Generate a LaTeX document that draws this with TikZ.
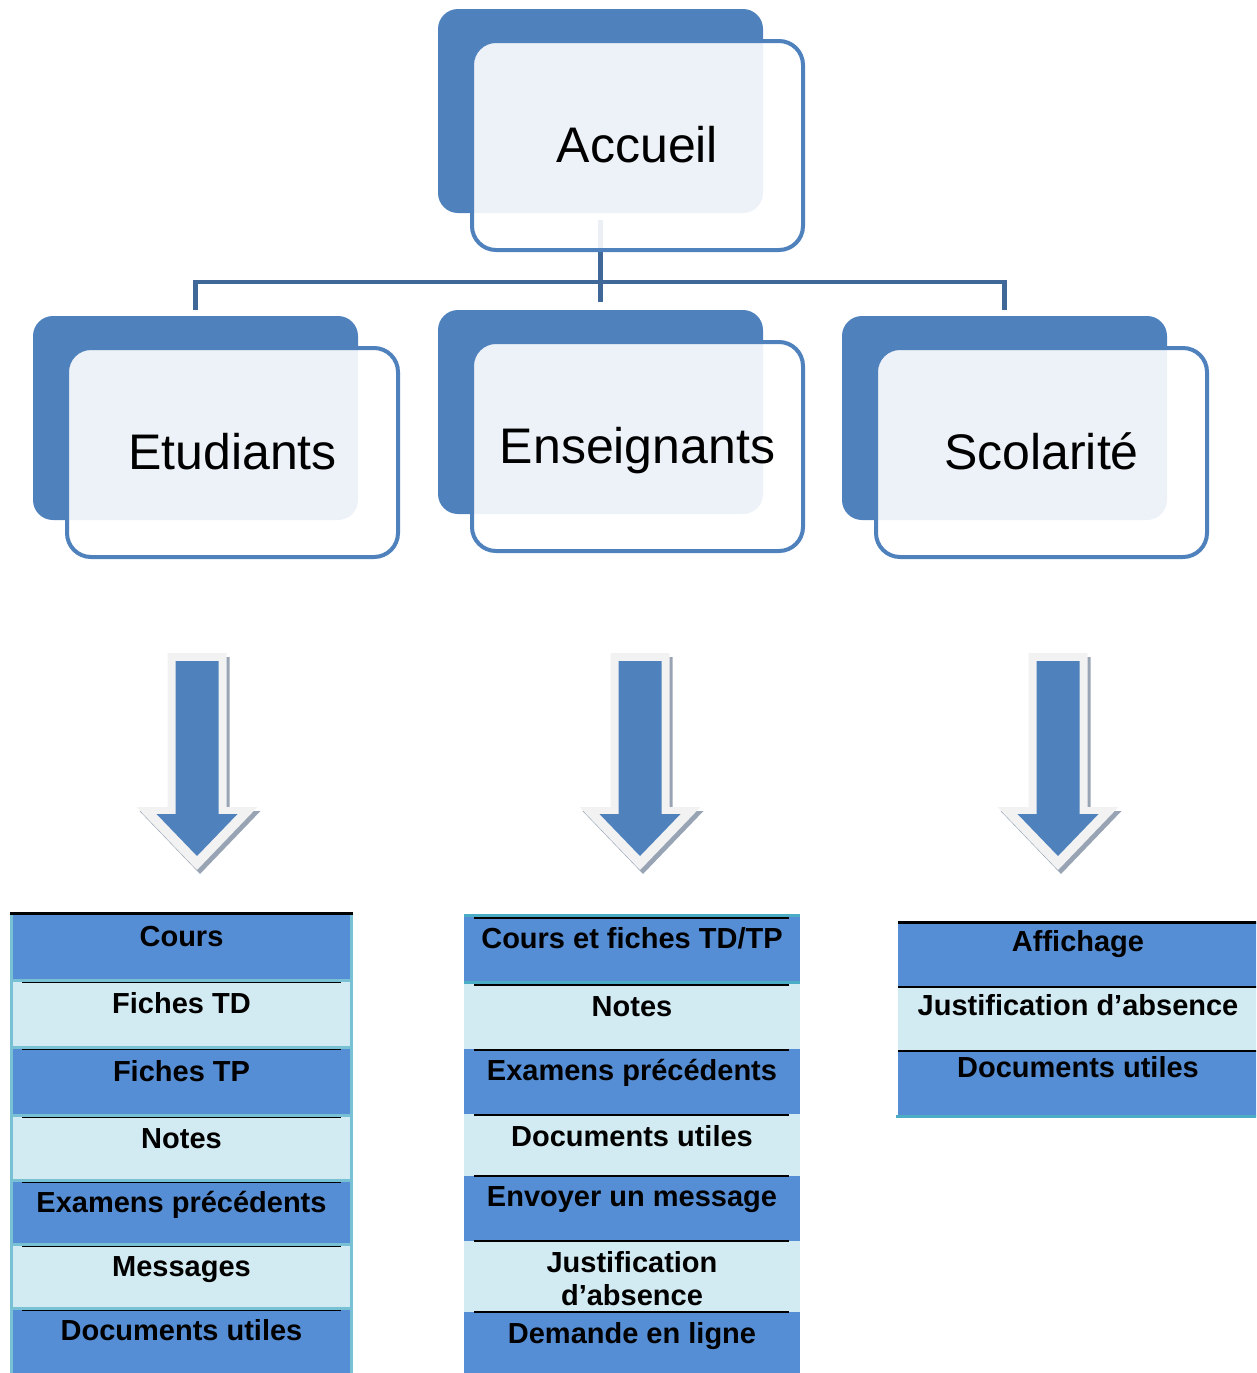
\documentclass[tikz,border=0pt]{standalone}
\usepackage{fontspec}
\setmainfont{Liberation Sans}
\usetikzlibrary{calc}
\definecolor{backblue}{HTML}{4F81BD}
\definecolor{connblue}{HTML}{3F6898}
\definecolor{arrlight}{HTML}{F2F2F2}
\definecolor{arrshadow}{HTML}{98A4B4}
\definecolor{cellblue}{HTML}{558ED5}
\definecolor{celllight}{HTML}{D2EAF1}
\definecolor{tealA}{HTML}{78C0D3}
\definecolor{tealB}{HTML}{4BACC6}
\tikzset{
  backbox/.style={rectangle, rounded corners=20pt, fill=backblue, minimum width=325pt, minimum height=204pt, inner sep=0pt},
  frontbox/.style={rectangle, rounded corners=24pt, draw=backblue, line width=4pt, fill=white, fill opacity=0.9, text opacity=1, minimum width=331pt, minimum height=209pt, inner sep=0pt, text height=33pt, text depth=0pt, font=\fontsize{50}{60}\selectfont},
  conn/.style={draw=connblue, line width=4.5pt},
  celltext/.style={anchor=base, inner sep=0pt, font=\bfseries\fontsize{29}{33}\selectfont, align=center},
  tealline/.style={line width=3pt},
  blackline/.style={draw=black, line width=1.4pt},
  downarr/.pic={
    \fill[arrshadow, shift={(3,4)}] (-29.5,0) -- (29.5,0) -- (29.5,154) -- (60.5,154) -- (0,217) -- (-60.5,154) -- (-29.5,154) -- cycle;
    \fill[arrlight] (-29.5,0) -- (29.5,0) -- (29.5,154) -- (60.5,154) -- (0,217) -- (-60.5,154) -- (-29.5,154) -- cycle;
    \fill[backblue] (-21.5,8) -- (21.5,8) -- (21.5,161) -- (40.5,161) -- (0,203) -- (-40.5,161) -- (-21.5,161) -- cycle;
  }
}
\begin{document}
\begin{tikzpicture}[x=1pt,y=-1pt]
\useasboundingbox (0,0) rectangle (1256,1373);
\clip (0,0) rectangle (1256,1373);

% back boxes
\node[backbox] (accb) at (600.5,111) {};
\node[backbox] (etb) at (195.5,418) {};
\node[backbox] (enb) at (600.5,412) {};
\node[backbox] (scb) at (1004.5,418) {};

% connectors
\coordinate (bus) at (0,282);
\draw[conn, shorten <=7pt, shorten >=8pt] (accb.south) -- (enb.north);
\draw[conn, shorten <=6pt, shorten >=6pt] (etb.north) -- (etb.north |- bus) -- (scb.north |- bus) -- (scb.north);

% front boxes
\node[frontbox] (acc) at (637.5,145.5) {Accueil};
\node[frontbox] (etu) at (232.5,452.5) {Etudiants};
\node[frontbox] (ens) at (637.5,446.5) {Enseignants};
\node[frontbox] (sco) at (1041.5,452.5) {Scolarité};

% arrows
\pic at (197,653) {downarr};
\pic at (640,653) {downarr};
\pic at (1058,653) {downarr};

% ---------- left table ----------
\fill[cellblue]  (10,913)  rectangle (353,980);
\fill[celllight] (10,980)  rectangle (353,1047);
\fill[cellblue]  (10,1047) rectangle (353,1115);
\fill[celllight] (10,1115) rectangle (353,1180);
\fill[cellblue]  (10,1180) rectangle (353,1244);
\fill[celllight] (10,1244) rectangle (353,1308);
\fill[cellblue]  (10,1308) rectangle (353,1380);
\foreach \yy in {980,1047,1115,1180,1244,1308} {
  \draw[tealline, draw=tealA] (10,\yy) -- (353,\yy);
  \draw[blackline] (22,\yy+2.5) -- (341,\yy+2.5);
}
\draw[tealline, draw=tealA] (11.5,913) -- (11.5,1380);
\draw[tealline, draw=tealA] (351.5,913) -- (351.5,1380);
\draw[draw=black, line width=3pt] (10,913.5) -- (353,913.5);

\node[celltext] (l1) at (181.5,946)  {Cours};
\node[celltext] (l2) at (181.5,1013) {Fiches TD};
\node[celltext] (l3) at (181.5,1081) {Fiches TP};
\node[celltext] (l4) at (181.5,1148) {Notes};
\node[celltext] (l5) at (181.5,1212) {Examens précédents};
\node[celltext] (l6) at (181.5,1276) {Messages};
\node[celltext] (l7) at (181.5,1340) {Documents utiles};

% ---------- middle table ----------
\fill[cellblue]  (464,916)  rectangle (800,983);
\fill[celllight] (464,983)  rectangle (800,1049);
\fill[cellblue]  (464,1049) rectangle (800,1114);
\fill[celllight] (464,1114) rectangle (800,1176);
\fill[cellblue]  (464,1176) rectangle (800,1241);
\fill[celllight] (464,1241) rectangle (800,1312);
\fill[cellblue]  (464,1312) rectangle (800,1380);
\draw[tealline, draw=tealB] (464,915.5) -- (800,915.5);
\draw[tealline, draw=tealB] (464,982) -- (800,982);
\foreach \yy in {918,985,1050,1115,1176,1241,1312} {
  \draw[blackline] (474,\yy) -- (789,\yy);
}
\node[celltext] (m1) at (632,948)  {Cours et fiches TD/TP};
\node[celltext] (m2) at (632,1016) {Notes};
\node[celltext] (m3) at (632,1080) {Examens précédents};
\node[celltext] (m4) at (632,1146) {Documents utiles};
\node[celltext] (m5) at (632,1206) {Envoyer un message};
\node[celltext] (m6) at (632,1305) {Justification\\d’absence};
\node[celltext] (m7) at (632,1343) {Demande en ligne};

% ---------- right table ----------
\fill[cellblue]  (898,922)  rectangle (1260,987);
\fill[celllight] (898,987)  rectangle (1260,1051);
\fill[cellblue]  (898,1051) rectangle (1260,1116);
\draw[draw=black, line width=3pt] (898,922) -- (1260,922);
\draw[draw=black, line width=2pt] (898,987) -- (1260,987);
\draw[draw=black, line width=2pt] (898,1051) -- (1260,1051);
\draw[tealline, draw=tealB] (896,1116) -- (1260,1116);
\node[celltext] (r1) at (1078,951)  {Affichage};
\node[celltext] (r2) at (1078,1015) {Justification d’absence};
\node[celltext] (r3) at (1078,1077) {Documents utiles};
\end{tikzpicture}
\end{document}
